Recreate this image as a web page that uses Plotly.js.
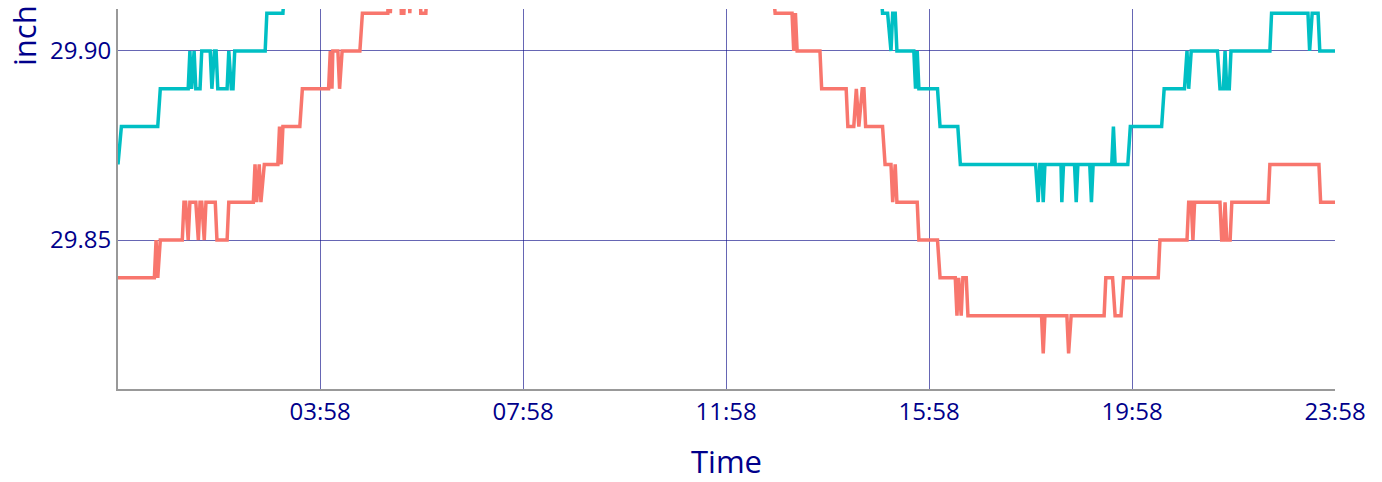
<!DOCTYPE html>
<html>
<head>
<meta charset="utf-8">
<script src="https://cdn.plot.ly/plotly-3.0.1.min.js"></script>
<style>
html,body{margin:0;padding:0;background:#fff;}
#chart{width:1382px;height:482px;}
</style>
</head>
<body>
<div id="chart"></div>
<script>
// Time of each reading, in minutes after midnight (-1 = 23:59 of the previous day)
const tealTime = [
  -1, 3, 46, 49, 82, 84, 86, 89, 91, 96,
  98, 108, 110, 113, 115, 117, 128, 130, 133, 135,
  137, 173, 175, 194, 197, 250, 253, 420, 423, 640,
  643, 820, 823, 900, 903, 909, 913, 915, 918, 920,
  940, 942, 944, 946, 968, 971, 992, 995, 1084, 1087,
  1089, 1091, 1093, 1095, 1114, 1115, 1117, 1130, 1132, 1134,
  1148, 1150, 1152, 1174, 1176, 1178, 1193, 1196, 1233, 1236,
  1260, 1263, 1265, 1268, 1299, 1302, 1306, 1308, 1310, 1313,
  1315, 1361, 1363, 1406, 1408, 1411, 1418, 1420, 1438
];
const tealValue = [
  29.87, 29.88, 29.88, 29.89, 29.89, 29.90, 29.89, 29.90, 29.89, 29.89,
  29.90, 29.90, 29.89, 29.90, 29.90, 29.89, 29.89, 29.90, 29.89, 29.89,
  29.90, 29.90, 29.91, 29.91, 29.92, 29.92, 29.93, 29.93, 29.94, 29.94,
  29.93, 29.93, 29.92, 29.92, 29.91, 29.91, 29.90, 29.91, 29.91, 29.90,
  29.90, 29.89, 29.90, 29.89, 29.89, 29.88, 29.88, 29.87, 29.87, 29.86,
  29.87, 29.87, 29.86, 29.87, 29.87, 29.86, 29.87, 29.87, 29.86, 29.87,
  29.87, 29.86, 29.87, 29.87, 29.88, 29.87, 29.87, 29.88, 29.88, 29.89,
  29.89, 29.90, 29.89, 29.90, 29.90, 29.89, 29.89, 29.90, 29.89, 29.89,
  29.90, 29.90, 29.91, 29.91, 29.90, 29.91, 29.91, 29.90, 29.90
];
const salmonTime = [
  -1, 42, 44, 46, 49, 75, 77, 79, 82, 84,
  91, 94, 96, 98, 101, 103, 114, 116, 128, 130,
  159, 161, 163, 166, 168, 172, 188, 190, 192, 194,
  214, 217, 248, 250, 252, 253, 259, 261, 264, 285,
  288, 318, 320, 321, 323, 333, 334, 337, 339, 343,
  344, 346, 356, 357, 363, 365, 430, 433, 700, 703,
  772, 776, 796, 798, 800, 802, 829, 831, 860, 862,
  869, 872, 875, 879, 881, 883, 903, 906, 913, 915,
  918, 920, 944, 946, 968, 971, 989, 991, 993, 996,
  998, 1002, 1004, 1091, 1093, 1095, 1121, 1123, 1126, 1165,
  1167, 1175, 1178, 1185, 1188, 1229, 1231, 1263, 1265, 1268,
  1270, 1272, 1302, 1304, 1306, 1308, 1310, 1314, 1316, 1359,
  1361, 1419, 1421, 1438
];
const salmonValue = [
  29.84, 29.84, 29.85, 29.84, 29.85, 29.85, 29.86, 29.86, 29.85, 29.86,
  29.86, 29.85, 29.86, 29.86, 29.85, 29.86, 29.86, 29.85, 29.85, 29.86,
  29.86, 29.87, 29.86, 29.87, 29.86, 29.87, 29.87, 29.88, 29.87, 29.88,
  29.88, 29.89, 29.89, 29.90, 29.89, 29.90, 29.90, 29.89, 29.90, 29.90,
  29.91, 29.91, 29.92, 29.91, 29.92, 29.92, 29.91, 29.91, 29.92, 29.92,
  29.91, 29.92, 29.92, 29.91, 29.91, 29.92, 29.92, 29.93, 29.93, 29.92,
  29.92, 29.91, 29.91, 29.90, 29.91, 29.90, 29.90, 29.89, 29.89, 29.88,
  29.88, 29.89, 29.88, 29.89, 29.89, 29.88, 29.88, 29.87, 29.87, 29.86,
  29.87, 29.86, 29.86, 29.85, 29.85, 29.84, 29.84, 29.83, 29.84, 29.83,
  29.84, 29.84, 29.83, 29.83, 29.82, 29.83, 29.83, 29.82, 29.83, 29.83,
  29.84, 29.84, 29.83, 29.83, 29.84, 29.84, 29.85, 29.85, 29.86, 29.86,
  29.85, 29.86, 29.86, 29.85, 29.85, 29.86, 29.85, 29.85, 29.86, 29.86,
  29.87, 29.87, 29.86, 29.86
];
// Axis ticks (minutes after midnight) and their labels
const tickMinutes = [238, 478, 718, 958, 1198, 1438];
const tickLabels = ["03:58", "07:58", "11:58", "15:58", "19:58", "23:58"];
const xRangeMinutes = [-1, 1438];
const yTicks = [29.85, 29.90];
const yRange = [29.8106, 29.9111];

const DAY = Date.UTC(2024, 0, 2, 0, 0, 0);
const toDate = m => {
  const d = new Date(DAY + m * 60000);
  const p = n => String(n).padStart(2, "0");
  return d.getUTCFullYear() + "-" + p(d.getUTCMonth() + 1) + "-" + p(d.getUTCDate()) +
    " " + p(d.getUTCHours()) + ":" + p(d.getUTCMinutes()) + ":00";
};

const navy = "#00008B";
const gridCol = "rgba(20,20,140,0.65)";

const traces = [
  {
    x: salmonTime.map(toDate), y: salmonValue, type: "scatter", mode: "lines",
    line: {color: "#F8766D", width: 3.5}, hoverinfo: "skip", showlegend: false
  },
  {
    x: tealTime.map(toDate), y: tealValue, type: "scatter", mode: "lines",
    line: {color: "#00BFC4", width: 3.5}, hoverinfo: "skip", showlegend: false
  }
];

const layout = {
  width: 1382, height: 482,
  margin: {l: 118, r: 47, t: 9, b: 93},
  paper_bgcolor: "#ffffff", plot_bgcolor: "#ffffff",
  font: {family: "Open Sans, Noto Sans, sans-serif", color: navy, size: 24},
  showlegend: false,
  xaxis: {
    type: "date",
    range: xRangeMinutes.map(toDate),
    tickmode: "array",
    tickvals: tickMinutes.map(toDate),
    ticktext: tickLabels,
    ticks: "",
    tickfont: {size: 24, color: navy},
    showgrid: true, gridcolor: gridCol, gridwidth: 1,
    showline: true, linecolor: "#999999", linewidth: 2,
    zeroline: false,
    title: {text: "Time", font: {size: 31, color: navy}, standoff: 26}
  },
  yaxis: {
    range: yRange,
    tickmode: "array",
    tickvals: yTicks,
    ticktext: yTicks.map(v => v.toFixed(2)),
    ticks: "",
    tickfont: {size: 24, color: navy},
    showgrid: true, gridcolor: gridCol, gridwidth: 1,
    showline: true, linecolor: "#999999", linewidth: 2,
    zeroline: false
  },
  annotations: [{
    text: "inch", xref: "paper", yref: "paper",
    x: -(118 - 24) / 1217, y: (389 - 36) / 380,
    xanchor: "center", yanchor: "middle",
    textangle: -90, showarrow: false,
    font: {size: 31, color: navy}
  }]
};

Plotly.newPlot("chart", traces, layout, {staticPlot: true, displayModeBar: false});
</script>
</body>
</html>
